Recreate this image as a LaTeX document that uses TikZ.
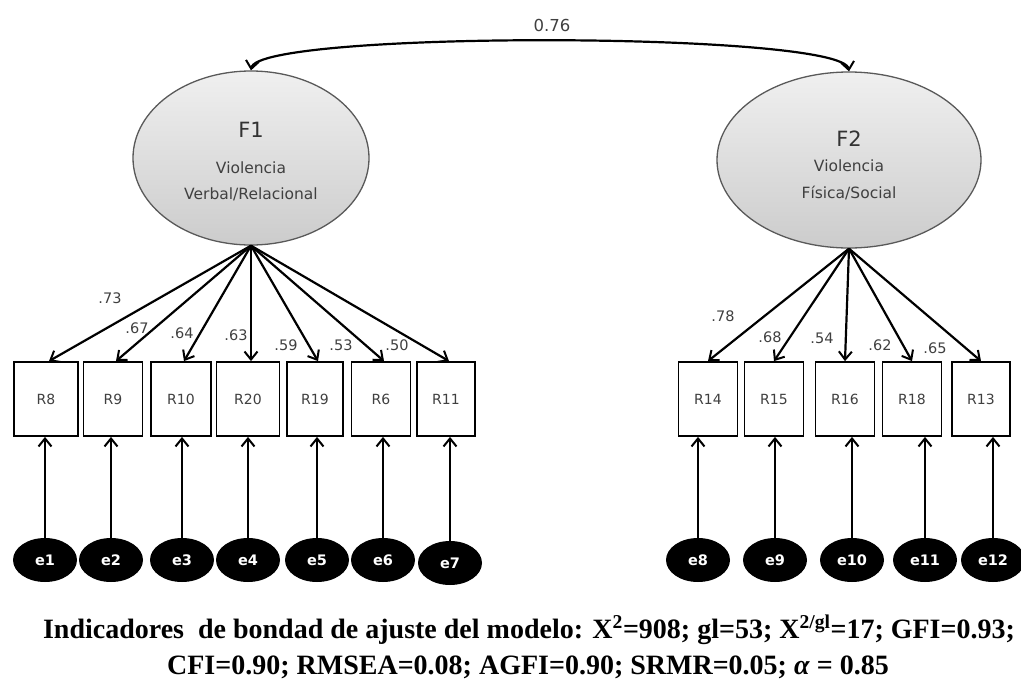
\documentclass[tikz,border=0pt]{standalone}
\usepackage{fontspec}
\setmainfont{Liberation Serif}
\newfontfamily\dejavu{DejaVu Sans}
\usetikzlibrary{arrows.meta,shapes.geometric,calc}
\begin{document}
\begin{tikzpicture}[x=1pt,y=-1pt,
  latent/.style={ellipse,draw=black!65,line width=1.3pt,top color=gray!12,bottom color=gray!40,inner sep=0pt},
  obs/.style={rectangle,draw=black,line width=1.8pt,minimum height=74pt,minimum width=60pt,inner sep=0pt,font=\dejavu\fontsize{14}{16}\selectfont,text=black!75},
  err/.style={ellipse,fill=black,minimum width=64pt,minimum height=44pt,inner sep=0pt,text=white,font=\dejavu\bfseries\fontsize{14.5}{16}\selectfont},
  load/.style={line width=2.2pt,-{Straight Barb[length=8pt,width=13pt,line width=2pt]}},
  lbl/.style={font=\dejavu\fontsize{14.5}{16}\selectfont,text=black!75,inner sep=0pt},
  ftitle/.style={font=\dejavu\fontsize{21}{23}\selectfont,text=black!80,inner sep=0pt},
  fsub/.style={font=\dejavu\fontsize{15.5}{17}\selectfont,text=black!75,inner sep=0pt},
  fitline/.style={font=\bfseries\fontsize{28}{32}\selectfont,inner sep=0pt,anchor=base}
]
\useasboundingbox (0,0) rectangle (1021,678);
\fill[white] (0,0) rectangle (1021,678);

% latent factors
\node[latent,minimum width=236pt,minimum height=174pt] (F1) at (251,158) {};
\node[latent,minimum width=264pt,minimum height=176pt] (F2) at (849,160) {};
\node[ftitle] (F1t) at (251,130) {F1};
\node[fsub] (F1a) at (251,168) {Violencia};
\node[fsub] (F1b) at (251,194) {Verbal/Relacional};
\node[ftitle] (F2t) at (849,139) {F2};
\node[fsub] (F2a) at (849,166) {Violencia};
\node[fsub] (F2b) at (849,193) {Física/Social};

% covariance
\draw[line width=2.2pt,{Straight Barb[length=8pt,width=13pt,line width=2pt]}-{Straight Barb[length=8pt,width=13pt,line width=2pt]}]
  (F1.north) .. controls ($(F1.north)+(6,-40)$) and ($(F2.north)+(-6,-40)$) .. (F2.north);
\node[lbl,font=\dejavu\fontsize{16.5}{18}\selectfont] (cov) at (552,25) {0.76};

% observed, left
\node[obs,minimum width=64pt] (R8) at (46,399) {R8};
\node[obs,minimum width=59pt] (R9) at (113,399) {R9};
\node[obs,minimum width=60pt] (R10) at (181,399) {R10};
\node[obs,minimum width=63pt] (R20) at (248,399) {R20};
\node[obs,minimum width=56pt] (R19) at (315,399) {R19};
\node[obs,minimum width=59pt] (R6) at (381,399) {R6};
\node[obs,minimum width=58pt] (R11) at (446,399) {R11};
% observed, right
\node[obs,minimum width=59pt] (R14) at (708,399) {R14};
\node[obs,minimum width=59pt] (R15) at (774,399) {R15};
\node[obs,minimum width=59pt] (R16) at (845,399) {R16};
\node[obs,minimum width=59pt] (R18) at (912,399) {R18};
\node[obs,minimum width=58pt] (R13) at (981,399) {R13};

% errors
\node[err] (e1) at (45,560) {e1};
\node[err] (e2) at (111,560) {e2};
\node[err] (e3) at (182,560) {e3};
\node[err] (e4) at (248,560) {e4};
\node[err] (e5) at (317,560) {e5};
\node[err] (e6) at (383,560) {e6};
\node[err] (e7) at (450,563) {e7};
\node[err] (e8) at (698,560) {e8};
\node[err] (e9) at (775,560) {e9};
\node[err] (e10) at (852,560) {e10};
\node[err] (e11) at (925,560) {e11};
\node[err] (e12) at (993,560) {e12};

% loadings
\foreach \r in {R8,R9,R10,R20,R19,R6,R11}{\draw[load] (F1.south) -- ($(\r.north)+(3,0)$);}
\foreach \r in {R14,R15,R16,R18,R13}{\draw[load] (F2.south) -- (\r.north);}
\foreach \e/\r in {e1/R8,e2/R9,e3/R10,e4/R20,e5/R19,e6/R6,e7/R11,e8/R14,e9/R15,e10/R16,e11/R18,e12/R13}{\draw[load] (\e.north) -- (\e.north |- \r.south);}

% loading labels
\node[lbl] (l1) at (110,298) {.73};
\node[lbl] (l2) at (137,328) {.67};
\node[lbl] (l3) at (182,333) {.64};
\node[lbl] (l4) at (236,335) {.63};
\node[lbl] (l5) at (286,345) {.59};
\node[lbl] (l6) at (341,345) {.53};
\node[lbl] (l7) at (397,345) {.50};
\node[lbl] (l8) at (723,316) {.78};
\node[lbl] (l9) at (770,337) {.68};
\node[lbl] (l10) at (822,338) {.54};
\node[lbl] (l11) at (880,345) {.62};
\node[lbl] (l12) at (935,348) {.65};

% fit indices
\node[fitline] (fit1) at (529,638) {Indicadores\ \ de bondad de ajuste del modelo: X\textsuperscript{2}=908; gl=53; X\textsuperscript{2/gl}=17; GFI=0.93;};
\node[fitline] (fit2) at (528,674) {CFI=0.90; RMSEA=0.08; AGFI=0.90; SRMR=0.05; \textit{α} = 0.85};
\end{tikzpicture}
\end{document}
